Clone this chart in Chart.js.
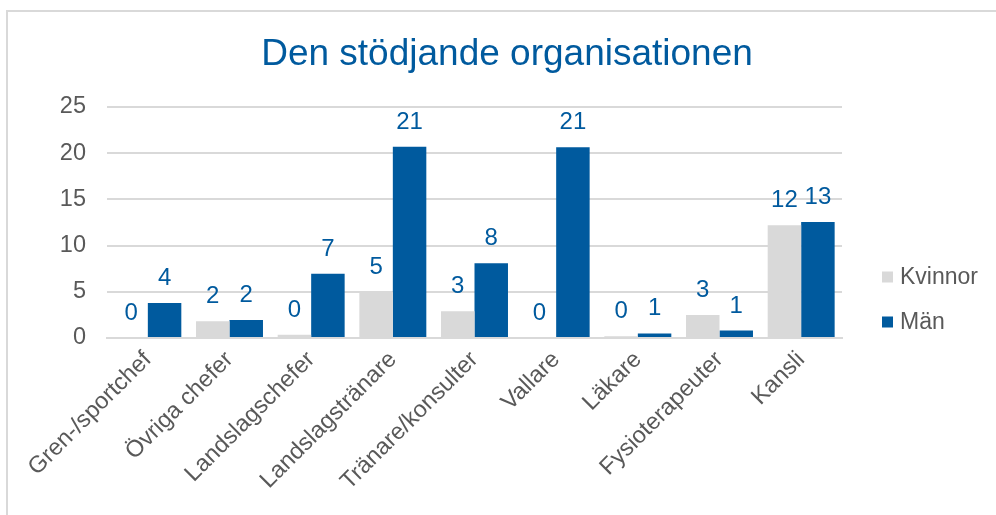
<!DOCTYPE html>
<html>
<head>
<meta charset="utf-8">
<script src="https://cdn.jsdelivr.net/npm/chart.js@4.4.1/dist/chart.umd.min.js"></script>
<style>
  html, body { margin: 0; padding: 0; background: #fff; overflow: hidden; }
  #wrap { position: relative; width: 996px; height: 515px; }
  #frame { position: absolute; left: 6px; top: 10px; width: 1000px; height: 520px;
           border-left: 2px solid #d9d9d9; border-top: 2px solid #d9d9d9; }
  canvas { position: absolute; left: 0; top: 0; }
</style>
</head>
<body>
<div id="wrap">
  <div id="frame"></div>
  <canvas id="graf" width="996" height="515"></canvas>
</div>
<script>
document.addEventListener("DOMContentLoaded", () => {
  // Data
  const kategorier = ["Gren-/sportchef", "Övriga chefer", "Landslagschefer", "Landslagstränare",
    "Tränare/konsulter", "Vallare", "Läkare", "Fysioterapeuter", "Kansli"];
  const kvinnor = [0, 1.8, 0.35, 5.0, 2.9, 0, 0.2, 2.5, 12.2];
  const man = [3.8, 1.95, 6.95, 20.7, 8.1, 20.65, 0.5, 0.8, 12.55];
  const yTicks = [0, 5, 10, 15, 20, 25];
  const titel = "Den stödjande organisationen";

  const BLA = "#005a9e";
  const GRA = "#d9d9d9";
  const TEXT = "#595959";
  const FONT = "'Liberation Sans', Arial, sans-serif";

  // Titel, etiketter ovanför staplarna och förklaring till höger
  const extra = {
    id: "extra",
    afterDatasetsDraw(chart) {
      const ctx = chart.ctx;
      const area = chart.chartArea;
      ctx.save();

      ctx.font = "37px " + FONT;
      ctx.fillStyle = BLA;
      ctx.textAlign = "center";
      ctx.textBaseline = "alphabetic";
      ctx.fillText(titel, 507, 65);

      ctx.font = "24px " + FONT;
      chart.data.datasets.forEach((ds, i) => {
        chart.getDatasetMeta(i).data.forEach((bar, j) => {
          ctx.fillText(String(Math.round(ds.data[j])), bar.x, bar.y - 18);
        });
      });

      // förklaring
      ctx.font = "23px " + FONT;
      ctx.textAlign = "left";
      ctx.textBaseline = "middle";
      const mitt = (area.top + area.bottom) / 2 + 77;
      chart.data.datasets.forEach((ds, i) => {
        const y = mitt + (i - 0.5) * 45;
        ctx.fillStyle = ds.backgroundColor;
        ctx.fillRect(area.right + 40, y - 5.5, 11, 11);
        ctx.fillStyle = TEXT;
        ctx.fillText(ds.label, area.right + 58, y + 1);
      });
      ctx.restore();
    }
  };

  new Chart(document.getElementById("graf"), {
    type: "bar",
    data: {
      labels: kategorier,
      datasets: [
        { label: "Kvinnor", data: kvinnor, backgroundColor: GRA },
        { label: "Män", data: man, backgroundColor: BLA }
      ]
    },
    options: {
      responsive: false,
      animation: false,
      layout: { padding: { left: 59, right: 154, top: 107, bottom: 17 } },
      datasets: { bar: { barPercentage: 1, categoryPercentage: 0.82 } },
      plugins: {
        title: { display: false },
        legend: { display: false },
        tooltip: { enabled: false }
      },
      scales: {
        x: {
          afterFit: (axis) => { axis.height = 160; },
          grid: { display: false, drawTicks: false },
          border: { color: GRA, width: 2 },
          ticks: {
            color: TEXT, font: { family: FONT, size: 23.5 },
            maxRotation: 45, minRotation: 45, autoSkip: false, padding: 8
          }
        },
        y: {
          min: 0, max: 25,
          afterFit: (axis) => { axis.width = 48; },
          afterBuildTicks: (axis) => { axis.ticks = yTicks.map(v => ({ value: v })); },
          grid: { color: GRA, lineWidth: 2, drawTicks: false },
          border: { display: false },
          ticks: { color: TEXT, font: { family: FONT, size: 23.5 }, padding: 21 }
        }
      }
    },
    plugins: [extra]
  });
});
</script>
</body>
</html>
